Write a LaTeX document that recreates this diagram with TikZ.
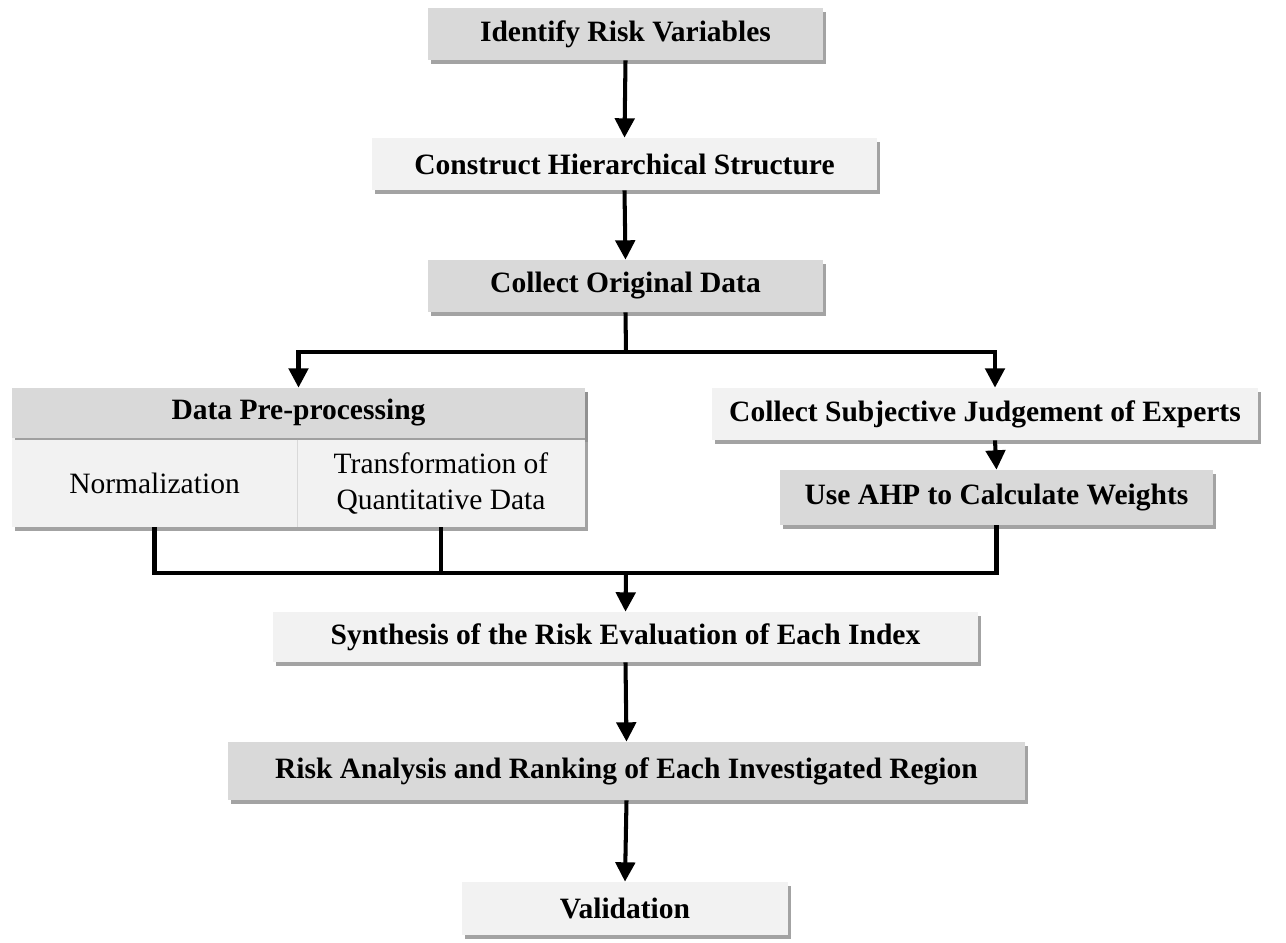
\documentclass[tikz,border=0pt]{standalone}
\usepackage{fontspec}
\setmainfont{Liberation Serif}
\usetikzlibrary{arrows.meta,shadows,calc}
\definecolor{dgray}{HTML}{D9D9D9}
\definecolor{lgray}{HTML}{F2F2F2}
\newcommand{\bx}[7]{%
  \node[#6, minimum width={(#4-#2)*0.02cm}, minimum height={(#5-#3)*0.02cm}] (#1) at ({(#2+#4)/2},{(#3+#5)/2}) {#7};}
\tikzset{
  base/.style={inner sep=0pt, align=center, font=\fontsize{16.8}{20}\selectfont\bfseries,
    drop shadow={shadow xshift=1.5pt, shadow yshift=-2pt, fill=black!45, opacity=0.8}},
  dbox/.style={base, fill=dgray},
  lbox/.style={base, fill=lgray},
  sbox/.style={inner sep=0pt, align=center, fill=lgray, font=\fontsize{16.8}{20}\selectfont},
  conn/.style={line width=2.3pt, black},
  arr/.style={conn, -{Triangle[length=11pt,width=11pt]}},
}
\begin{document}
\begin{tikzpicture}[x=0.02cm,y=-0.02cm]
\useasboundingbox (0,0) rectangle (1286,943);
\bx{irv}{428}{8}{823}{60}{dbox}{Identify Risk Variables}
\bx{chs}{372}{138}{877}{190}{lbox}{Construct Hierarchical Structure}
\bx{cod}{428}{260}{823}{312}{dbox}{Collect Original Data}
% data pre-processing group
\path[drop shadow={shadow xshift=1.5pt, shadow yshift=-2pt, fill=black!45, opacity=0.8}, fill=lgray] (12,388) rectangle (585,527);
\bx{dpp}{12}{388}{585}{438}{dbox, drop shadow={opacity=0}}{Data Pre-processing}
\bx{nor}{12}{440}{297}{527}{sbox}{Normalization}
\bx{tqd}{297}{440}{585}{527}{sbox}{Transformation of\\Quantitative Data}
\draw[black!15, line width=0.8pt] (nor.north east) -- (nor.south east);
\bx{csj}{712}{388}{1258}{440}{lbox}{Collect Subjective Judgement of Experts}
\bx{ahp}{780}{470}{1213}{525}{dbox}{Use AHP to Calculate Weights}
\bx{syn}{273}{612}{978}{662}{lbox}{Synthesis of the Risk Evaluation of Each Index}
\bx{rar}{228}{742}{1025}{800}{dbox}{Risk Analysis and Ranking of Each Investigated Region}
\bx{val}{462}{882}{788}{935}{lbox}{Validation}
\coordinate (j1) at (626,352);
\coordinate (j2) at (626,573);
\draw[arr] (irv.south) -- (chs.north);
\draw[arr] (chs.south) -- (cod.north);
\draw[conn] (cod.south) -- (j1);
\draw[arr] (j1) -| (dpp.north);
\draw[arr] (j1) -| ([xshift=10*0.02cm]csj.north);
\draw[arr] ([xshift=10*0.02cm]csj.south) -- (ahp.north);
\draw[conn] (nor.south) |- (ahp.south |- j2) -- (ahp.south);
\draw[conn] (tqd.south) -- (tqd.south |- j2);
\draw[arr] (j2) -- (syn.north);
\draw[arr] (syn.south) -- (rar.north);
\draw[arr] (rar.south) -- (val.north);
\end{tikzpicture}
\end{document}
